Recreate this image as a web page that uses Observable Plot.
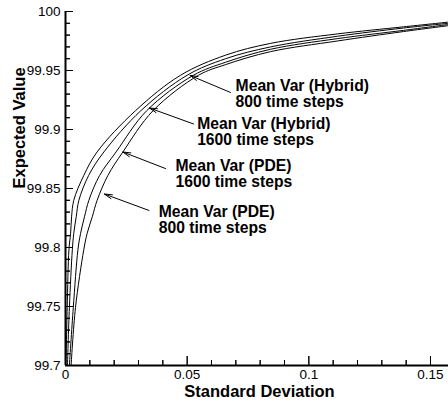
<!DOCTYPE html>
<html>
<head>
<meta charset="utf-8">
<script src="https://cdn.jsdelivr.net/npm/d3@7"></script>
<script src="https://cdn.jsdelivr.net/npm/@observablehq/plot@0.6"></script>
<style>
  html, body { margin: 0; padding: 0; background: #fff; overflow: hidden; }
  #chart svg { display: block; font-family: 'Liberation Sans', Arial, Helvetica, sans-serif; color: #000; background: #fff; }
</style>
</head>
<body>
<div id="chart"></div>
<script>
// ---- data ----
const seriesNames = ["Hybrid 800", "Hybrid 1600", "PDE 1600", "PDE 800"];

const hybrid800X = [0.0002, 0.0007, 0.0014, 0.0021, 0.0025, 0.0034, 0.0075, 0.0130, 0.0288, 0.0473, 0.0658, 0.0843, 0.1117, 0.1389, 0.1574];
const hybrid800Y = [99.700, 99.749, 99.798, 99.812, 99.826, 99.840, 99.861, 99.881, 99.916, 99.946, 99.963, 99.973, 99.981, 99.987, 99.991];

const hybrid1600X = [0.0008, 0.0016, 0.0028, 0.0034, 0.0044, 0.0055, 0.0095, 0.0158, 0.0310, 0.0500, 0.0658, 0.0843, 0.1117, 0.1389, 0.1574];
const hybrid1600Y = [99.700, 99.749, 99.798, 99.812, 99.826, 99.840, 99.861, 99.881, 99.916, 99.946, 99.960, 99.970, 99.979, 99.986, 99.990];

const pde1600X = [0.0016, 0.0032, 0.0051, 0.0062, 0.0078, 0.0096, 0.0140, 0.0208, 0.0334, 0.0526, 0.0658, 0.0843, 0.1117, 0.1389, 0.1574];
const pde1600Y = [99.700, 99.749, 99.798, 99.812, 99.826, 99.840, 99.861, 99.881, 99.916, 99.946, 99.957, 99.968, 99.977, 99.984, 99.989];

const pde800X = [0.0023, 0.0041, 0.0075, 0.0089, 0.0110, 0.0130, 0.0174, 0.0236, 0.0360, 0.0547, 0.0658, 0.0843, 0.1117, 0.1389, 0.1574];
const pde800Y = [99.700, 99.749, 99.798, 99.812, 99.826, 99.840, 99.861, 99.881, 99.916, 99.946, 99.955, 99.966, 99.975, 99.983, 99.988];

const xMajor = [0, 0.05, 0.1, 0.15];
const xMinor = [0.01, 0.02, 0.03, 0.04, 0.06, 0.07, 0.08, 0.09, 0.11, 0.12, 0.13, 0.14];
const xTickLabels = ["0", "0.05", "0.1", "0.15"];
const yMajor = [99.7, 99.75, 99.8, 99.85, 99.9, 99.95, 100];
const yMinor = [99.71, 99.72, 99.73, 99.74, 99.76, 99.77, 99.78, 99.79, 99.81, 99.82, 99.83, 99.84,
                99.86, 99.87, 99.88, 99.89, 99.91, 99.92, 99.93, 99.94, 99.96, 99.97, 99.98, 99.99];
const yTickLabels = ["99.7", "99.75", "99.8", "99.85", "99.9", "99.95", "100"];

const xTitle = "Standard Deviation";
const yTitle = "Expected Value";

// annotations (data units)
const annText = ["Mean Var (Hybrid)\n800 time steps", "Mean Var (Hybrid)\n1600 time steps",
                 "Mean Var (PDE)\n1600 time steps", "Mean Var (PDE)\n800 time steps"];
const annTextX = [0.0699, 0.0541, 0.0452, 0.0383];
const annTextY = [99.9425, 99.9103, 99.8747, 99.8353];
const arrowTailX = [0.0678, 0.0526, 0.0411, 0.0343];
const arrowTailY = [99.9314, 99.9047, 99.8669, 99.8314];
const arrowTipX = [0.0512, 0.0345, 0.0236, 0.0160];
const arrowTipY = [99.9458, 99.9182, 99.8809, 99.8453];

// ---- build tables ----
const allX = [hybrid800X, hybrid1600X, pde1600X, pde800X];
const allY = [hybrid800Y, hybrid1600Y, pde1600Y, pde800Y];
const rows = [];
seriesNames.forEach((s, k) => allX[k].forEach((x, i) => rows.push({series: s, x, y: allY[k][i]})));
const ann = annText.map((t, i) => ({t, tx: annTextX[i], ty: annTextY[i],
  x1: arrowTailX[i], y1: arrowTailY[i], x2: arrowTipX[i], y2: arrowTipY[i]}));

const xFmt = d => xTickLabels[xMajor.indexOf(d)];
const yFmt = d => yTickLabels[yMajor.indexOf(d)];
const blank = () => "";

const W = 448, H = 402, ML = 65, MR = 0, MT = 11, MB = 37;
const frameW = W - ML - MR, frameH = H - MT - MB;

const chart = Plot.plot({
  width: W,
  height: H,
  marginLeft: ML,
  marginRight: MR,
  marginTop: MT,
  marginBottom: MB,
  x: {domain: [0, 0.1574], axis: null},
  y: {domain: [99.7, 100], axis: null},
  marks: [
    // axes: ticks shifted inward by their own length, labels land just outside the frame
    Plot.axisY(yMajor, {anchor: "left", tickSize: 8, dx: 8, tickPadding: 5, fontSize: 13.5, tickFormat: yFmt, label: null}),
    Plot.axisY(yMinor, {anchor: "left", tickSize: 5, dx: 5, tickFormat: blank, label: null}),
    Plot.axisX(xMajor, {anchor: "bottom", tickSize: 9, dy: -9, tickPadding: 4, fontSize: 13.5, tickFormat: xFmt, label: null}),
    Plot.axisX(xMinor, {anchor: "bottom", tickSize: 5, dy: -5, tickFormat: blank, label: null}),
    // fallback ticks as short rules at the same places
    Plot.ruleY(yMajor, {y: d => d, stroke: "#000", strokeWidth: 1, insetRight: frameW - 8}),
    Plot.ruleY(yMinor, {y: d => d, stroke: "#000", strokeWidth: 1, insetRight: frameW - 5}),
    Plot.ruleX(xMajor, {x: d => d, stroke: "#000", strokeWidth: 1, insetTop: frameH - 9}),
    Plot.ruleX(xMinor, {x: d => d, stroke: "#000", strokeWidth: 1, insetTop: frameH - 5}),
    // axis lines
    Plot.ruleX([0], {y1: 99.7, y2: 100, stroke: "#000", strokeWidth: 2}),
    Plot.ruleY([99.7], {stroke: "#000", strokeWidth: 2}),
    // curves
    Plot.line(rows, {x: "x", y: "y", z: "series", stroke: "#000", strokeWidth: 1, curve: "catmull-rom"}),
    // axis titles
    Plot.text([xTitle], {frameAnchor: "bottom", dy: 31.5, dx: 2.5, lineAnchor: "bottom", fontSize: 16.5, fontWeight: "bold", fill: "#000"}),
    Plot.text([yTitle], {frameAnchor: "left", rotate: -90, dx: -41, lineAnchor: "bottom", fontSize: 16.5, fontWeight: "bold", fill: "#000"}),
    // annotations
    Plot.arrow(ann, {x1: "x1", y1: "y1", x2: "x2", y2: "y2", stroke: "#000", strokeWidth: 1, headLength: 12, headAngle: 30}),
    Plot.text(ann, {x: "tx", y: "ty", text: "t", textAnchor: "start", lineAnchor: "top", fontSize: 15.7, lineHeight: 1.02, fontWeight: "bold", fill: "#000"})
  ]
});
document.getElementById("chart").appendChild(chart);
</script>
</body>
</html>
